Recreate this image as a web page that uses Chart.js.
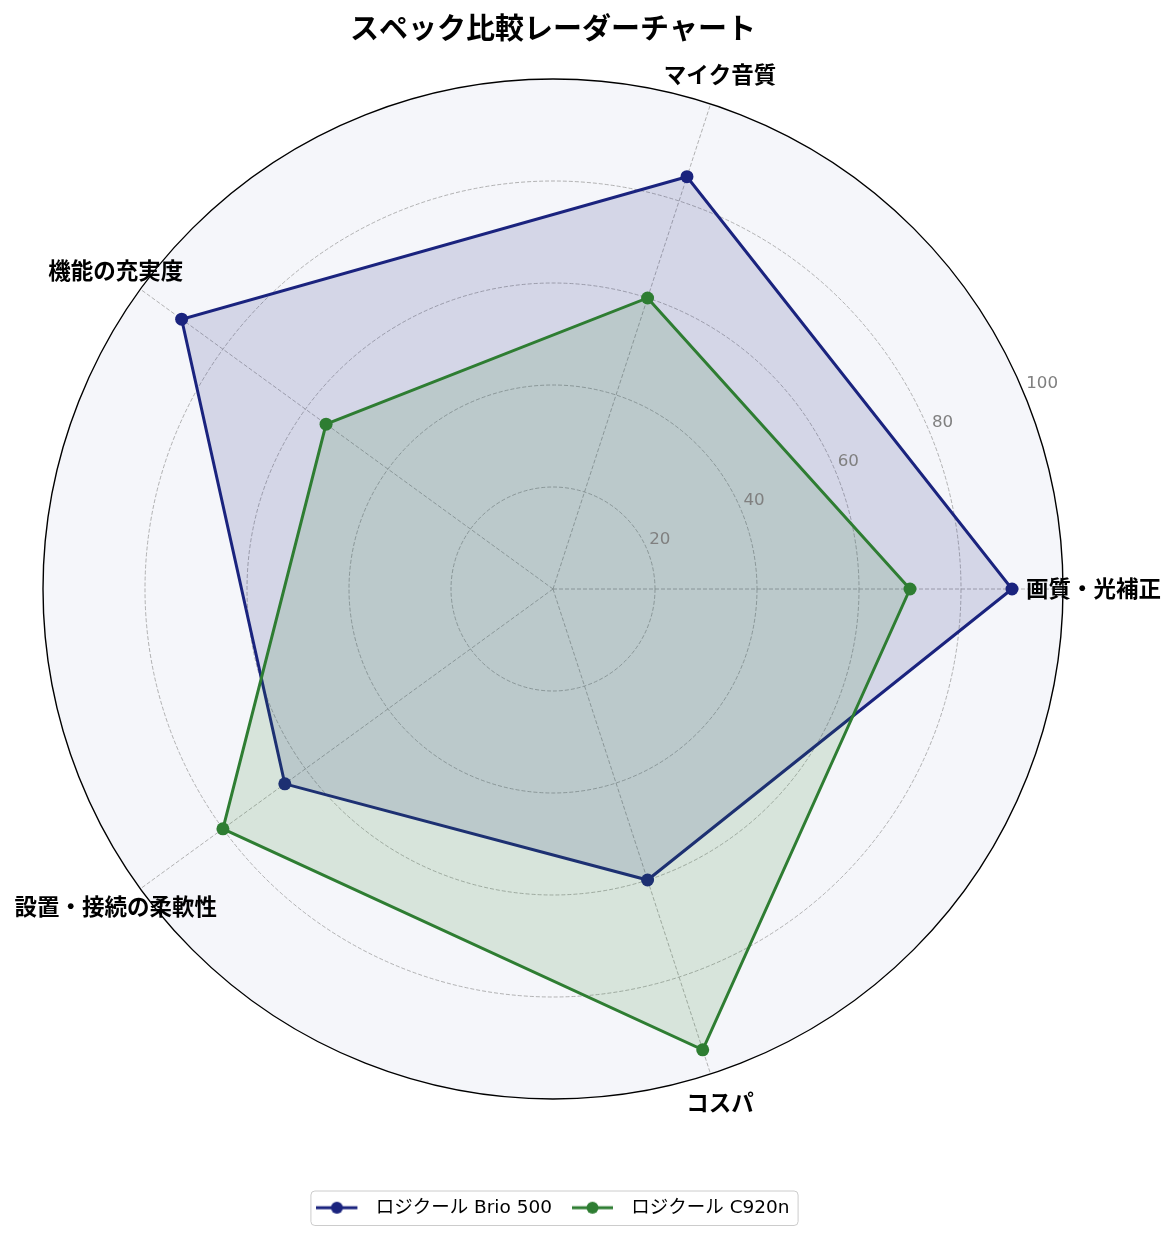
<!DOCTYPE html>
<html><head><meta charset="utf-8">
<script src="https://cdn.jsdelivr.net/npm/chart.js@4.4.0/dist/chart.umd.min.js"></script>
<style>html,body{margin:0;padding:0;background:#fff;}#wrap{width:1176px;height:1239px;position:relative;}</style>
</head><body><div id="wrap"><canvas id="c"></canvas></div>
<script>
// ---- data ----
const categories = ['画質・光補正', 'マイク音質', '機能の充実度', '設置・接続の柔軟性', 'コスパ'];
const brio500 = [90, 85, 90, 65, 60];
const c920n = [70, 60, 55, 80, 95];
const seriesNames = ['ロジクール Brio 500', 'ロジクール C920n'];
const tickValues = [20, 40, 60, 80, 100];
const chartTitle = 'スペック比較レーダーチャート';

// ---- styles ----
const FONT = "'DejaVu Sans','Noto Sans CJK JP',sans-serif";
const colors = ['#1a237e', '#2e7d32'];
const fills = ['rgba(26,35,126,0.15)', 'rgba(46,125,50,0.15)'];

// matplotlib runs counter-clockwise from 3 o'clock; Chart.js runs clockwise -> reorder
const order = [0, 4, 3, 2, 1];
const reorder = a => order.map(i => a[i]);

function legendIcon(color) {
  const cv = document.createElement('canvas');
  cv.width = 50; cv.height = 14;
  const g = cv.getContext('2d');
  g.strokeStyle = color; g.lineWidth = 3;
  g.beginPath(); g.moveTo(0, 7); g.lineTo(41, 7); g.stroke();
  g.fillStyle = color; g.beginPath(); g.arc(20.5, 7, 6, 0, Math.PI * 2); g.fill();
  return cv;
}
const icons = colors.map(legendIcon);

const polarDecor = {
  id: 'polarDecor',
  beforeDraw(chart) {
    const s = chart.scales.r, ctx = chart.ctx;
    ctx.save();
    ctx.beginPath(); ctx.arc(s.xCenter, s.yCenter, s.drawingArea, 0, Math.PI * 2);
    ctx.fillStyle = '#f5f6fa'; ctx.fill();
    ctx.restore();
  },
  afterDatasetsDraw(chart) {
    const s = chart.scales.r, ctx = chart.ctx;
    ctx.save();
    const a = 22.5 * Math.PI / 180;
    ctx.font = '16.7px ' + FONT; ctx.fillStyle = '#808080';
    ctx.textAlign = 'left'; ctx.textBaseline = 'bottom';
    tickValues.forEach(v => {
      const d = s.getDistanceFromCenterForValue(v);
      ctx.fillText(String(v), s.xCenter + Math.cos(a) * d + 2, s.yCenter - Math.sin(a) * d - 2);
    });
    ctx.font = 'bold 22.5px ' + FONT; ctx.fillStyle = '#000';
    ctx.textAlign = 'center'; ctx.textBaseline = 'middle';
    chart.data.labels.forEach((lab, i) => {
      const p = s.getPointPositionForValue(i, 106);
      ctx.fillText(lab, p.x, p.y + 2);
    });
    ctx.restore();
  },
  afterDraw(chart) {
    const lg = chart.legend;
    if (!lg || !lg.legendHitBoxes || !lg.legendHitBoxes.length) return;
    const hb = lg.legendHitBoxes;
    let l = Infinity, r = -Infinity, t = Infinity, b = -Infinity;
    hb.forEach(h => { l = Math.min(l, h.left); r = Math.max(r, h.left + h.width); t = Math.min(t, h.top); b = Math.max(b, h.top + h.height); });
    const ctx = chart.ctx;
    ctx.save();
    const x = l - 6, y = t - 8, w = r - l + 14, h = b - t + 16;
    ctx.strokeStyle = '#cccccc'; ctx.lineWidth = 1;
    ctx.beginPath(); ctx.roundRect(x + 0.5, y + 0.5, w, h, 4); ctx.stroke();
    ctx.restore();
  }
};

Chart.defaults.font.family = FONT;

new Chart(document.getElementById('c'), {
  type: 'radar',
  data: {
    labels: reorder(categories),
    datasets: [brio500, c920n].map((vals, k) => ({
      label: seriesNames[k],
      data: reorder(vals),
      borderColor: colors[k],
      backgroundColor: fills[k],
      borderWidth: 3,
      fill: true,
      pointRadius: 6.5,
      pointHoverRadius: 6.5,
      pointBackgroundColor: colors[k],
      pointBorderColor: colors[k],
      pointBorderWidth: 0,
      order: 2 - k
    }))
  },
  options: {
    responsive: true,
    maintainAspectRatio: false,
    animation: false,
    layout: { padding: { left: 0, right: 70, top: 0, bottom: 12 } },
    scales: {
      r: {
        min: 0, max: 100,
        startAngle: 90,
        ticks: { stepSize: 20, display: false },
        pointLabels: { display: false },
        grid: {
          circular: true,
          color: c => (c.tick && c.tick.value === 100) ? '#000000' : '#a0a0a0',
          lineWidth: c => (c.tick && c.tick.value === 100) ? 1.4 : 0.8
        },
        border: { dash: c => (c.tick && c.tick.value === 100) ? [] : [4, 2] },
        angleLines: { color: '#a0a0a0', lineWidth: 0.8, borderDash: [4, 2] },
        afterFit: scale => { scale.xCenter = 553; scale.yCenter = 589; scale.drawingArea = 510; }
      }
    },
    plugins: {
      title: {
        display: true, text: chartTitle, color: '#000',
        font: { size: 29, weight: 'bold', family: FONT },
        padding: { top: 14, bottom: 10 }
      },
      legend: {
        position: 'bottom',
        labels: {
          usePointStyle: true, pointStyleWidth: 50, padding: 20, color: '#000',
          font: { size: 18.5, family: FONT },
          sort: (a, b) => a.datasetIndex - b.datasetIndex,
          generateLabels: chart => Chart.defaults.plugins.legend.labels.generateLabels(chart)
            .map(it => Object.assign(it, { pointStyle: icons[it.datasetIndex] }))
        }
      },
      tooltip: { enabled: false }
    }
  },
  plugins: [polarDecor]
});
</script></body></html>
